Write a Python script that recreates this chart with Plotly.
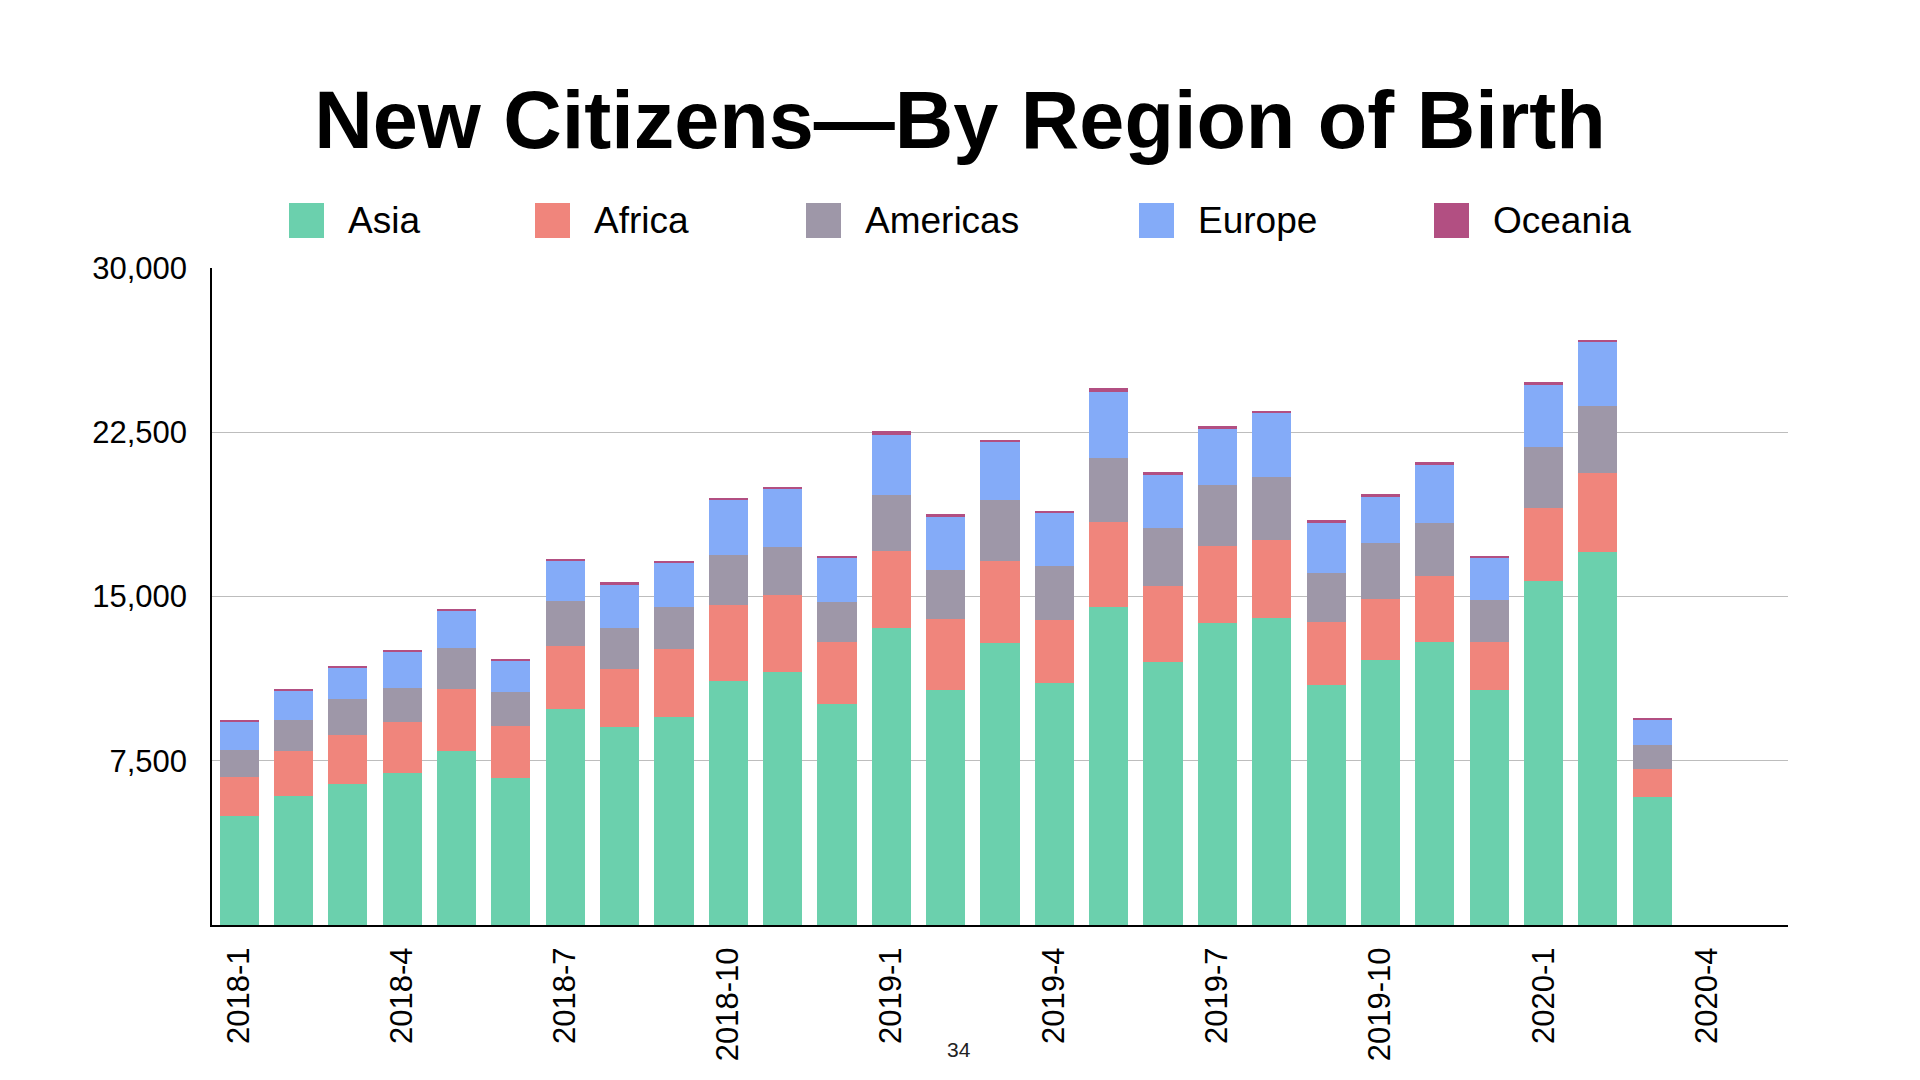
import plotly.graph_objects as go

# ---- data ----
months = ["2018-1", "2018-2", "2018-3", "2018-4", "2018-5", "2018-6", "2018-7", "2018-8",
          "2018-9", "2018-10", "2018-11", "2018-12", "2019-1", "2019-2", "2019-3", "2019-4",
          "2019-5", "2019-6", "2019-7", "2019-8", "2019-9", "2019-10", "2019-11", "2019-12",
          "2020-1", "2020-2", "2020-3", "2020-4", "2020-5"]
asia = [4990, 5880, 6430, 6920, 7950, 6730, 9870, 9020, 9490, 11130, 11530, 10070, 13540, 10710,
        12870, 11070, 14520, 12030, 13790, 14030, 10960, 12120, 12940, 10720, 15690, 17010, 5850]
africa = [1780, 2080, 2260, 2360, 2830, 2360, 2880, 2680, 3100, 3500, 3560, 2870, 3560, 3280,
          3770, 2870, 3870, 3450, 3510, 3540, 2870, 2770, 2990, 2220, 3340, 3630, 1290]
americas = [1230, 1410, 1640, 1550, 1870, 1550, 2050, 1870, 1950, 2280, 2190, 1820, 2550, 2230,
            2780, 2460, 2920, 2640, 2780, 2870, 2230, 2550, 2420, 1910, 2790, 3050, 1100]
europe = [1280, 1320, 1410, 1640, 1690, 1420, 1830, 1960, 2010, 2510, 2650, 2010, 2740, 2420,
          2650, 2420, 3010, 2420, 2600, 2960, 2330, 2140, 2640, 1930, 2840, 2940, 1140]
oceania = [50, 90, 50, 90, 90, 90, 90, 140, 90, 90, 90, 90, 180, 140,
           90, 90, 180, 140, 90, 90, 90, 90, 140, 90, 150, 90, 55]
series_names = ["Asia", "Africa", "Americas", "Europe", "Oceania"]
y_ticks = [7500, 15000, 22500, 30000]
x_tick_labels = months[::3]
title_text = "New Citizens\u2014By Region of Birth"
page_number = "34"

# ---- style ----
colors = ["#6BD0AD", "#F0857C", "#9E97A8", "#84ABF8", "#B24F82"]
FONT = "Liberation Sans, Arial, Helvetica, sans-serif"
W, H = 1920, 1080
ML, MR, MT, MB = 212, 132, 268, 155
PW, PH = W - ML - MR, H - MT - MB


def px_x(px):
    return (px - ML) / PW


def px_y(py):
    return (H - MB - py) / PH


fig = go.Figure()
series_values = [asia, africa, americas, europe, oceania]
for name, vals, col in zip(series_names, series_values, colors):
    fig.add_trace(go.Bar(
        x=months[:len(vals)], y=vals, name=name,
        marker=dict(color=col, line=dict(width=0)),
        showlegend=False,
    ))

# custom legend (large square swatches like the reference)
legend_left_px = [289, 535, 806, 1139, 1434]
sw = 35
sw_top, sw_bot = 203, 238
shapes = []
annotations = []
for name, col, lx in zip(series_names, colors, legend_left_px):
    shapes.append(dict(type="rect", xref="paper", yref="paper",
                       x0=px_x(lx), x1=px_x(lx + sw), y0=px_y(sw_bot), y1=px_y(sw_top),
                       fillcolor=col, line=dict(width=0), layer="above"))
    annotations.append(dict(text=name, xref="paper", yref="paper",
                            x=px_x(lx + sw + 22), y=px_y((sw_top + sw_bot) / 2),
                            xanchor="left", yanchor="middle", showarrow=False,
                            font=dict(family=FONT, size=37, color="#000000")))

annotations.append(dict(text=page_number, xref="paper", yref="paper",
                        x=px_x(959), y=px_y(1049), xanchor="center", yanchor="middle",
                        showarrow=False, font=dict(family=FONT, size=21, color="#222222")))

fig.update_layout(
    width=W, height=H,
    margin=dict(l=ML, r=MR, t=MT, b=MB, pad=0),
    barmode="stack",
    bargap=0.28,
    plot_bgcolor="white",
    paper_bgcolor="white",
    title=dict(text="<b>" + title_text + "</b>", x=0.5, xref="container", xanchor="center",
               y=1 - 120 / H, yref="container", yanchor="middle",
               font=dict(family=FONT, size=81, color="#000000")),
    shapes=shapes,
    annotations=annotations,
    xaxis=dict(
        type="category", categoryorder="array", categoryarray=months,
        range=[-0.5, len(months) - 0.5],
        tickmode="array", tickvals=x_tick_labels, ticktext=x_tick_labels,
        tickangle=-90, ticks="outside", ticklen=8, tickcolor="rgba(0,0,0,0)",
        tickfont=dict(family=FONT, size=31, color="#000000"),
        showline=True, linecolor="#000000", linewidth=2,
        showgrid=False, zeroline=False,
    ),
    yaxis=dict(
        range=[0, 30000], tickmode="array", tickvals=y_ticks, tickformat=",",
        ticks="outside", ticklen=17, tickcolor="rgba(0,0,0,0)",
        tickfont=dict(family=FONT, size=31, color="#000000"),
        showline=True, linecolor="#000000", linewidth=1.5,
        showgrid=True, gridcolor="#BDBDBD", gridwidth=1.3, zeroline=False,
    ),
)

fig.write_html("out.html", config={"displayModeBar": False},
               post_script="document.body.style.margin='0';")
